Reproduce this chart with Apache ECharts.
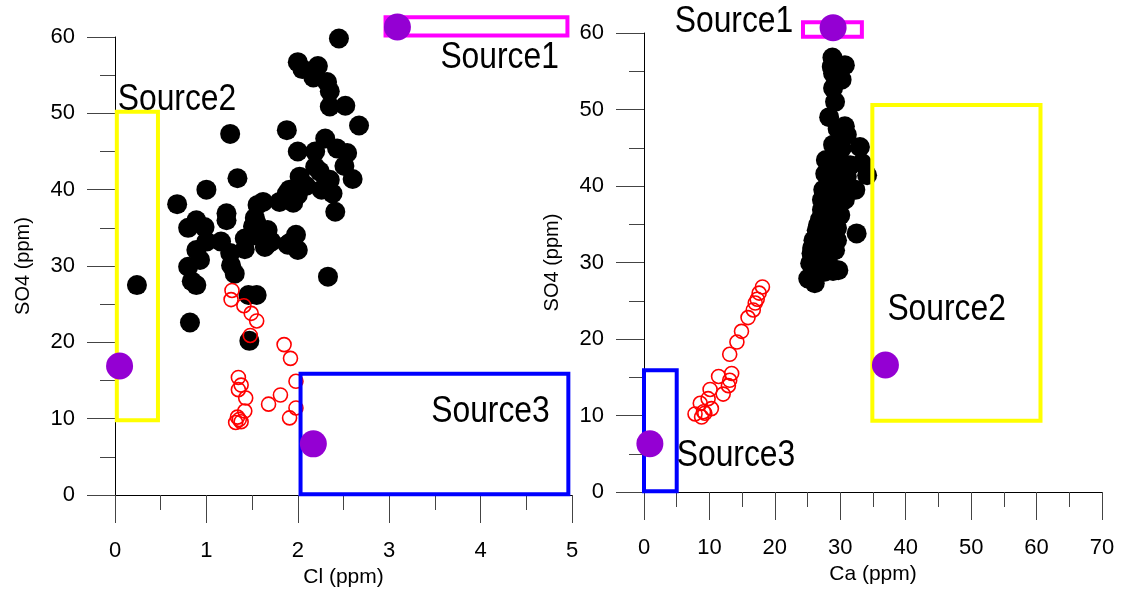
<!DOCTYPE html>
<html>
<head>
<meta charset="utf-8">
<script src="https://cdn.jsdelivr.net/npm/echarts@6/dist/echarts.min.js"></script>
<style>
html,body{margin:0;padding:0;background:#fff;}
#c{width:1123px;height:597px;}
</style>
</head>
<body>
<div id="c"></div>
<script>
// ---- Left panel: Cl vs SO4 ----
const leftBlack = [
[2.45,59.8],[2.00,56.7],[2.22,56.2],[2.05,55.8],[2.17,54.7],[2.32,54.1],[2.35,52.9],[2.35,50.9],[2.52,51.0],
[2.67,48.4],[1.26,47.3],[1.88,47.8],[2.30,46.7],[2.00,45.0],[2.19,45.0],[2.43,45.4],[2.54,44.8],[2.51,43.1],
[2.60,41.4],[1.34,41.5],[2.19,43.0],[2.24,42.4],[2.35,41.3],[2.02,41.7],[2.09,40.5],[1.91,40.0],[2.26,40.0],
[2.38,39.5],[2.00,39.3],[1.88,39.5],[1.00,40.0],[0.68,38.1],[2.41,37.1],[1.62,38.4],[1.80,38.4],[1.95,38.3],
[1.56,38.0],[1.22,36.9],[1.22,36.0],[0.89,36.0],[0.80,35.0],[0.98,35.1],[1.53,36.3],[1.51,35.2],[1.67,34.7],
[1.55,35.6],[1.42,33.6],[1.71,33.2],[1.64,32.5],[1.98,34.1],[1.91,33.0],[2.00,32.1],[1.42,32.2],[1.16,33.2],
[1.00,33.2],[1.26,31.7],[0.89,32.1],[0.80,29.9],[0.93,30.8],[1.27,30.1],[1.31,29.0],[0.84,28.0],[0.89,27.5],
[0.82,22.6],[1.46,26.2],[1.55,26.2],[1.47,20.2],[2.33,28.6],[0.24,27.5],[1.51,34.0],[1.66,32.8],[1.89,32.8]
];
const leftRed = [
[1.28,26.8],[1.27,25.6],[1.41,24.8],[1.49,23.8],[1.55,22.8],[1.48,20.9],[1.85,19.7],[1.92,17.9],[1.98,14.9],
[1.35,15.4],[1.38,14.4],[1.35,13.8],[1.43,12.7],[1.81,13.1],[1.68,11.9],[1.98,11.4],[1.91,10.1],[1.42,11.0],
[1.34,10.2],[1.38,9.6],[1.32,9.5],[1.36,9.9]
];
// boxes: [x1, y1, x2, y2]
const leftBoxes = [
  {name:'Source1', box:[2.96,60.2,4.95,62.6]},
  {name:'Source2', box:[0.02,9.8,0.47,50.2]},
  {name:'Source3', box:[2.03,0.1,4.96,15.9]}
];
const leftSources = [[3.09,61.3],[0.05,16.9],[2.17,6.7]];
const leftLabels = [['Source1',3.56,57.3],['Source2',0.03,51.8],['Source3',3.46,10.9]];

// ---- Right panel: Ca vs SO4 ----
const rightBlack = [
[28.8,56.8],[30.7,55.8],[28.7,55.6],[28.9,54.7],[30.2,53.9],[28.9,52.8],[29.2,51.0],[28.3,49.0],[29.6,47.5],
[30.7,47.8],[31.0,46.7],[28.9,45.4],[30.2,44.9],[33.0,45.1],[33.3,43.0],[34.1,41.4],[27.7,41.6],[29.7,42.1],
[31.0,41.2],[27.4,39.5],[28.9,39.9],[30.0,39.0],[27.2,38.2],[28.7,37.7],[29.7,37.3],[27.9,36.4],[26.9,35.6],
[28.9,35.1],[32.5,33.8],[26.4,34.2],[28.4,33.8],[25.9,32.9],[27.4,32.5],[29.5,32.9],[29.2,31.6],[25.6,31.2],
[27.4,30.5],[25.4,29.9],[28.2,29.9],[29.7,29.0],[25.1,27.9],[26.1,27.3],[27.8,43.4],[29.7,44.1],[28.7,38.8],
[30.7,38.2],[27.2,36.9],[30.0,36.2],[26.6,34.9],[28.1,32.3],[25.7,31.9],[29.5,34.5],[31.5,42.7],[32.3,39.5],
[27.6,28.8],[28.9,28.9]
];
const rightRed = [
[18.1,26.8],[17.6,26.0],[17.3,25.2],[17.0,24.7],[16.7,23.8],[15.9,22.8],[14.9,21.0],[14.2,19.6],[13.1,18.0],
[13.4,15.5],[13.1,14.6],[11.4,15.1],[12.9,13.9],[12.1,12.8],[10.1,13.4],[9.8,12.2],[10.3,10.9],[8.6,11.6],
[9.1,10.5],[7.8,10.2],[8.8,9.8],[9.3,10.3]
];
const rightBoxes = [
  {name:'Source1', box:[24.3,59.5,33.3,61.4]},
  {name:'Source2', box:[34.9,9.3,60.6,50.6]},
  {name:'Source3', box:[0.0,0.1,5.0,15.9]}
];
const rightSources = [[28.9,60.7],[36.9,16.6],[0.9,6.3]];
const rightLabels = [['Source1',4.7,61.4],['Source2',37.2,23.8],['Source3',5.0,4.7]];

const boxColors = {Source1:'#ff00ff', Source2:'#ffff00', Source3:'#0000ff'};
const FONT = 'Liberation Sans, Arial, sans-serif';

function xAxis(idx, max, interval, name, gap){
  return {gridIndex:idx, type:'value', min:0, max:max, interval:interval, name:name,
    nameLocation:'middle', nameGap:gap,
    nameTextStyle:{fontFamily:FONT, fontSize:21, color:'#000'},
    axisLine:{onZero:false, lineStyle:{color:'#000', width:1}},
    axisTick:{show:true, length:28, lineStyle:{color:'#444', width:1}},
    minorTick:{show:true, splitNumber:2, length:15, lineStyle:{color:'#444', width:1}},
    axisLabel:{margin:45, fontFamily:FONT, fontSize:22, color:'#000'},
    splitLine:{show:false}};
}
function yAxis(idx){
  return {gridIndex:idx, type:'value', min:0, max:60, interval:10, name:'SO4 (ppm)',
    nameLocation:'middle', nameGap:82,
    nameTextStyle:{fontFamily:FONT, fontSize:20, color:'#000'},
    axisLine:{onZero:false, lineStyle:{color:'#000', width:1}},
    axisTick:{show:true, length:28, lineStyle:{color:'#444', width:1}},
    minorTick:{show:true, splitNumber:2, length:15, lineStyle:{color:'#444', width:1}},
    axisLabel:{margin:40, fontFamily:FONT, fontSize:22, color:'#000'},
    splitLine:{show:false}};
}

function boxSeries(idx, boxes){
  return {type:'custom', xAxisIndex:idx, yAxisIndex:idx, clip:false, z:5,
    data: boxes.map(b=>({value:b.box, name:b.name})),
    encode:{x:[0,2], y:[1,3]},
    renderItem:function(params, api){
      const p1 = api.coord([api.value(0), api.value(1)]);
      const p2 = api.coord([api.value(2), api.value(3)]);
      const nm = boxes[params.dataIndex].name;
      return {type:'rect',
        shape:{x:Math.min(p1[0],p2[0]), y:Math.min(p1[1],p2[1]), width:Math.abs(p2[0]-p1[0]), height:Math.abs(p2[1]-p1[1])},
        style:{fill:'none', stroke:boxColors[nm], lineWidth:4}};
    }};
}
function labelSeries(idx, labels){
  return {type:'custom', xAxisIndex:idx, yAxisIndex:idx, clip:false, z:10,
    data: labels.map(l=>[l[1], l[2]]),
    renderItem:function(params, api){
      const p = api.coord([api.value(0), api.value(1)]);
      return {type:'text', x:p[0], y:p[1], scaleX:0.86,
        style:{text:labels[params.dataIndex][0], fontFamily:FONT, fontSize:37, fill:'#000', align:'left', verticalAlign:'middle'}};
    }};
}
function blackSeries(idx, data){
  return {type:'scatter', xAxisIndex:idx, yAxisIndex:idx, data:data, symbol:'circle', symbolSize:20, z:2, clip:false,
    itemStyle:{color:'#000', opacity:1}};
}
function redSeries(idx, data){
  return {type:'scatter', xAxisIndex:idx, yAxisIndex:idx, data:data, symbol:'circle', symbolSize:14, z:3, clip:false,
    itemStyle:{color:'rgba(0,0,0,0)', borderColor:'#ff0000', borderWidth:1.6, opacity:1}};
}
function srcSeries(idx, data){
  return {type:'scatter', xAxisIndex:idx, yAxisIndex:idx, data:data, symbol:'circle', symbolSize:27, z:8, clip:false,
    itemStyle:{color:'#9400d3', opacity:1}};
}

const chart = echarts.init(document.getElementById('c'), null, {renderer:'canvas'});
chart.setOption({
  animation:false,
  backgroundColor:'#fff',
  grid:[
    {left:115, top:37, width:457, height:458},
    {left:644, top:33, width:458, height:459}
  ],
  xAxis:[xAxis(0,5,1,'Cl (ppm)',72), xAxis(1,70,10,'Ca (ppm)',68)],
  yAxis:[yAxis(0), yAxis(1)],
  series:[
    blackSeries(0,leftBlack), redSeries(0,leftRed), boxSeries(0,leftBoxes), srcSeries(0,leftSources), labelSeries(0,leftLabels),
    blackSeries(1,rightBlack), redSeries(1,rightRed), boxSeries(1,rightBoxes), srcSeries(1,rightSources), labelSeries(1,rightLabels)
  ]
});
</script>
</body>
</html>
